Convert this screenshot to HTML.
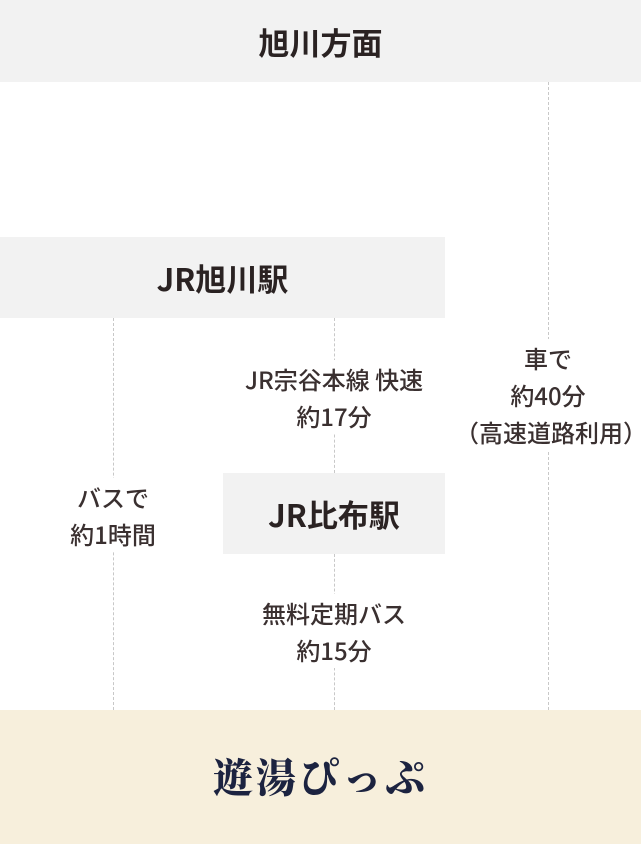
<!DOCTYPE html>
<html><head><meta charset="utf-8"><style>
body{margin:0;width:641px;height:844px;position:relative;background:#fff;font-family:"Noto Sans CJK JP","Liberation Sans",sans-serif;color:#3a3030;overflow:hidden}
.b{position:absolute;background:#f2f2f2;display:flex;align-items:center;justify-content:center;font-weight:bold;font-size:31px;color:#2a2222}
.d{position:absolute;width:0;border-left:1.5px dashed #c8c8c8}
.t{position:absolute;text-align:center;font-size:24px;line-height:37px;background:#fff;font-weight:500}
</style></head><body>
<div class="b" style="left:0;top:0;width:641px;height:82px">旭川方面</div>
<div class="b" style="left:0;top:237px;width:445px;height:81px">JR旭川駅</div>
<div class="b" style="left:223px;top:473px;width:222px;height:81px">JR比布駅</div>
<div class="d" style="left:113px;top:318px;height:392px"></div>
<div class="d" style="left:334px;top:318px;height:155px"></div>
<div class="d" style="left:334px;top:554px;height:156px"></div>
<div class="d" style="left:548px;top:82px;height:628px"></div>
<div class="t" style="left:225px;top:360px;width:218px">JR宗谷本線 快速<br>約17分</div>
<div class="t" style="left:48px;top:478px;width:130px">バスで<br>約1時間</div>
<div class="t" style="left:455px;top:339px;width:186px">車で<br>約40分<br>（高速道路利用）</div>
<div class="t" style="left:225px;top:594px;width:218px">無料定期バス<br>約15分</div>
<div style="position:absolute;left:0;top:710px;width:641px;height:134px;background:#f7efdc;display:flex;align-items:center;justify-content:center;font-family:'Noto Serif CJK SC','Liberation Serif',serif;font-weight:900;font-size:40px;color:#1c2340;letter-spacing:3px;padding-bottom:4px;box-sizing:border-box">遊湯ぴっぷ</div>
</body></html>
